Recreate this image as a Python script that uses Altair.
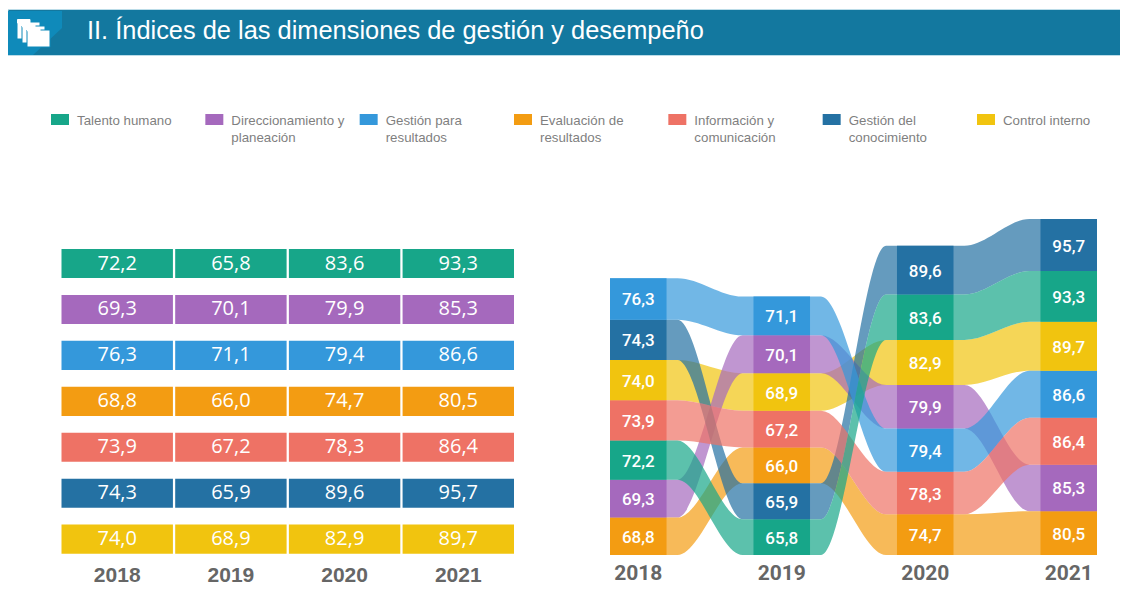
import altair as alt
import pandas as pd

M = 8  # page margin
W, H = 1112, 580

years = [2018, 2019, 2020, 2021]
dims = ["Talento humano", "Direccionamiento y planeación", "Gestión para resultados",
        "Evaluación de resultados", "Información y comunicación",
        "Gestión del conocimiento", "Control interno"]
legend_lines = ["Talento humano", "Direccionamiento y|planeación", "Gestión para|resultados",
                "Evaluación de|resultados", "Información y|comunicación",
                "Gestión del|conocimiento", "Control interno"]
colors = ["#17A689", "#A569BD", "#3498DB", "#F39C12", "#EE7265", "#2471A3", "#F1C40F"]

talento = [72.2, 65.8, 83.6, 93.3]
direccion = [69.3, 70.1, 79.9, 85.3]
gestion_res = [76.3, 71.1, 79.4, 86.6]
evaluacion = [68.8, 66.0, 74.7, 80.5]
informacion = [73.9, 67.2, 78.3, 86.4]
conocimiento = [74.3, 65.9, 89.6, 95.7]
control = [74.0, 68.9, 82.9, 89.7]
series = [talento, direccion, gestion_res, evaluacion, informacion, conocimiento, control]

title = "II. Índices de las dimensiones de gestión y desempeño"


def fmt(v):
    return f"{v:.1f}".replace(".", ",")


rows = []
for d, vals in zip(dims, series):
    for y, v in zip(years, vals):
        rows.append({"dim": d, "year": y, "value": v, "label": fmt(v)})
df = pd.DataFrame(rows)

# sorted stack per year (largest on top)
df = df.sort_values(["year", "value"])
df["y0"] = df.groupby("year")["value"].cumsum() - df["value"]
df["y1"] = df["y0"] + df["value"]
df["ymid"] = (df["y0"] + df["y1"]) / 2

HALF = 0.197
SHOULDER = 0.076  # each ribbon stays level this far past a column before it bends
ribbon_rows = []
for _, r in df.iterrows():
    for side in (-HALF - SHOULDER, -HALF, HALF, HALF + SHOULDER):
        ribbon_rows.append({"dim": r["dim"], "xpos": float(r["year"] + side),
                            "low": float(r["y0"]), "high": float(r["y1"])})
ribbons = pd.DataFrame(ribbon_rows)
ribbons = ribbons[(ribbons["xpos"] >= 2018 - HALF) & (ribbons["xpos"] <= 2021 + HALF)].sort_values(["dim", "xpos"])
df["x0"] = df["year"] - HALF
df["x1"] = df["year"] + HALF

color = alt.Color("dim:N", scale=alt.Scale(domain=dims, range=colors), legend=None)

# ---------- left table
lx = alt.X("year:O", axis=None, scale=alt.Scale(type="band", domain=years, range=[61.5 - M, 514 - M], paddingInner=0.02, paddingOuter=0))
ly = alt.Y("dim:N", axis=None, scale=alt.Scale(type="band", domain=dims, range=[249 - M, 553.7 - M], paddingInner=0.367, paddingOuter=0))
left_bars = alt.Chart(df).mark_rect().encode(x=lx, y=ly, color=color)
left_text = alt.Chart(df).mark_text(font="Open Sans", fontSize=20, color="#FFFFFF", baseline="middle").encode(
    x=lx, y=ly, text="label:N")

years_df = pd.DataFrame({"year": years})
left_years = alt.Chart(years_df).mark_text(font="Liberation Sans", fontWeight="bold", fontSize=21, color="#666666").encode(
    x=lx, y=alt.value(576 - M), text="year:O")

# ---------- right sankey
rx_scale = alt.Scale(domain=[2018 - HALF, 2021 + HALF], range=[610 - M, 1097 - M], nice=False, zero=False)
ry_scale = alt.Scale(domain=[0, 617.5], range=[555 - M, 219 - M], nice=False, zero=False)
ry = alt.Y("y0:Q", axis=None, scale=ry_scale)

right_ribbons = alt.Chart(ribbons).mark_area(interpolate="monotone", opacity=0.7, orient="vertical").encode(
    x=alt.X("xpos:Q", axis=None, scale=rx_scale),
    y=alt.Y("low:Q", axis=None, scale=ry_scale),
    y2="high:Q", color=color)
right_bars = alt.Chart(df).mark_rect().encode(
    x=alt.X("x0:Q", axis=None, scale=rx_scale), x2="x1:Q", y=ry, y2="y1:Q", color=color)
right_text = alt.Chart(df).mark_text(font="Roboto", fontWeight=500, fontSize=17, color="#FFFFFF", baseline="middle", dy=1.5).encode(
    x=alt.X("year:Q", axis=None, scale=rx_scale),
    y=alt.Y("ymid:Q", axis=None, scale=ry_scale), text="label:N")
right_years = alt.Chart(years_df).mark_text(font="Roboto", fontWeight="bold", fontSize=21, color="#666666").encode(
    x=alt.X("year:Q", axis=None, scale=rx_scale), y=alt.value(574 - M), text="year:O")

# ---------- legend
legend_df = pd.DataFrame({"dim": dims, "lines": legend_lines})
leg_x = alt.X("dim:N", axis=None, scale=alt.Scale(type="point", domain=dims, range=[60 - M, 986 - M], padding=0))
leg_sw = alt.Chart(legend_df).mark_rect(width=18, height=11).encode(x=leg_x, y=alt.value(119.5 - M), color=color)
leg_tx = alt.Chart(legend_df).transform_calculate(t="split(datum.lines, '|')").mark_text(
    font="Liberation Sans", fontSize=13.3, color="#7F7F7F", align="left", baseline="top", dx=17, lineHeight=17.5).encode(
    x=leg_x, y=alt.value(113.5 - M), text="t:N")

# ---------- header
one = pd.DataFrame({"k": [0]})
head = alt.Chart(one).mark_rect(color="#13789F", stroke="#BBDCE8", strokeWidth=1).encode(
    x=alt.value(0), x2=alt.value(W + 2), y=alt.value(9.5 - M), y2=alt.value(55.5 - M))
patch = pd.DataFrame({"px": [0, 62 - M, 62 - M, 33 - M, 0], "py": [11 - M, 11 - M, 28 - M, 55 - M, 55 - M],
                      "o": [0, 1, 2, 3, 4]})
head_patch = alt.Chart(patch).mark_line(filled=True, color="#0F8ABA", strokeWidth=0).encode(
    x=alt.X("px:Q", axis=None, scale=None), y=alt.Y("py:Q", axis=None, scale=None), order="o:Q")
fold_rows = []
for fx, fy in [(17, 19), (22, 23), (27, 27)]:
    fold_rows.append({"a": fx - M, "b": fx + 23 - M, "c": fy + 3 - M, "d": fy + 20 - M, "s": "#0F8ABA"})
    fold_rows.append({"a": fx + 0.5 - M, "b": fx + 13 - M, "c": fy + 0.5 - M, "d": fy + 4 - M, "s": "#FFFFFF"})
icon = alt.Chart(pd.DataFrame(fold_rows)).mark_rect(color="#FFFFFF", strokeWidth=1).encode(
    x=alt.X("a:Q", axis=None, scale=None), x2="b:Q", y=alt.Y("c:Q", axis=None, scale=None), y2="d:Q",
    stroke=alt.Stroke("s:N", scale=None, legend=None))
head_txt = alt.Chart(pd.DataFrame({"t": [title]})).mark_text(
    font="Liberation Sans", fontSize=25.4, color="#FFFFFF", align="left", baseline="middle").encode(
    x=alt.value(87 - M), y=alt.value(31 - M), text="t:N")

chart = alt.layer(
    head, head_patch, icon, head_txt, leg_sw, leg_tx,
    left_bars, left_text, left_years,
    right_ribbons, right_bars, right_text, right_years,
).resolve_scale(x="independent", y="independent").properties(
    width=W, height=H, padding=0, autosize=alt.AutoSizeParams(type="none")
).configure_view(stroke=None)

chart.save("out.html", embed_options={"renderer": "svg", "actions": False})
